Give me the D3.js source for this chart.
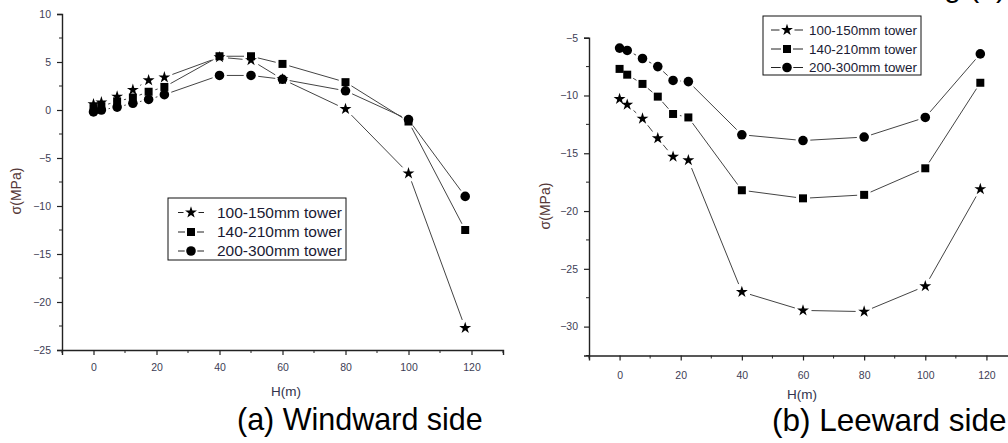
<!DOCTYPE html>
<html>
<head>
<meta charset="utf-8">
<script src="https://cdn.jsdelivr.net/npm/d3@7"></script>
<style>
  body { margin: 0; background: #fff; }
  svg { display: block; font-family: Arial, "Liberation Sans", sans-serif; }
</style>
</head>
<body>
<script>
// ---- data ----
var seriesNames = ["100-150mm tower", "140-210mm tower", "200-300mm tower"];

// (a) windward side
var heightsWind = [0, 2.5, 7.5, 12.5, 17.5, 22.5, 40, 50, 60, 80, 100, 118];
var wind100 = [0.6, 0.8, 1.4, 2.1, 3.1, 3.4, 5.5, 5.2, 3.2, 0.1, -6.6, -22.7];
var wind140 = [0.2, 0.4, 0.9, 1.3, 1.9, 2.4, 5.6, 5.6, 4.8, 2.9, -1.2, -12.5];
var wind200 = [-0.2, 0.0, 0.3, 0.7, 1.1, 1.6, 3.6, 3.6, 3.2, 2.0, -1.0, -9.0];

// (b) leeward side
var heightsLee = [0, 2.5, 7.5, 12.5, 17.5, 22.5, 40, 60, 80, 100, 118];
var lee100 = [-10.3, -10.8, -12.0, -13.7, -15.3, -15.6, -27.0, -28.6, -28.7, -26.5, -18.1];
var lee140 = [-7.7, -8.2, -9.0, -10.1, -11.6, -11.9, -18.2, -18.9, -18.6, -16.3, -8.9];
var lee200 = [-5.9, -6.1, -6.8, -7.5, -8.7, -8.8, -13.4, -13.9, -13.6, -11.9, -6.4];

var xMajor = [0, 20, 40, 60, 80, 100, 120];
var xMinor = [-10, 10, 30, 50, 70, 90, 110, 130];
var windMajor = [10, 5, 0, -5, -10, -15, -20, -25];
var leeMajor = [-5, -10, -15, -20, -25, -30];

var width = 1008;
var height = 443;

var svg = d3.select("body")
    .append("svg")
    .attr("width", width)
    .attr("height", height);

var symbols = [d3.symbolStar, d3.symbolSquare, d3.symbolCircle];
var symSize = [44, 64, 72];
var symR = [6, 4.5, 4.8];

// segment between two markers, with a small gap at each end (Origin style)
function gapLine(g, x1, y1, x2, y2, r1, r2) {
  var dx = x2 - x1, dy = y2 - y1;
  var len = Math.sqrt(dx * dx + dy * dy);
  var g1 = r1 + 2.5, g2 = r2 + 2.5;
  if (len <= g1 + g2) return;
  g.append("line")
    .attr("x1", x1 + dx * g1 / len)
    .attr("y1", y1 + dy * g1 / len)
    .attr("x2", x2 - dx * g2 / len)
    .attr("y2", y2 - dy * g2 / len)
    .attr("stroke", "#444")
    .attr("stroke-width", 1);
}

function panel(p) {
  var x = d3.scaleLinear().domain([-10, 130]).range(p.xRange);
  var y = d3.scaleLinear().domain(p.yDomain).range(p.yRange);
  var g = svg.append("g");

  // x axis
  var xAxis = g.append("g").attr("transform", "translate(0," + p.yRange[0] + ")");
  xAxis.call(d3.axisBottom(x).tickValues(xMajor).tickSize(5).tickPadding(p.xPad).tickFormat(d3.format("d")));
  xAxis.selectAll(".minor").data(xMinor).enter()
    .append("line").attr("class", "minor")
    .attr("x1", function(d){ return x(d); }).attr("x2", function(d){ return x(d); })
    .attr("y1", 0).attr("y2", 3)
    .attr("stroke", "#222");

  // y axis
  var yAxis = g.append("g").attr("transform", "translate(" + p.xRange[0] + ",0)");
  yAxis.call(d3.axisLeft(y).tickValues(p.yMajor).tickSize(5).tickPadding(6).tickFormat(d3.format("d")));
  yAxis.selectAll(".minor").data(p.yMajor.map(function(v){ return v - 2.5; }).filter(function(v){ return v >= p.yDomain[0]; })).enter()
    .append("line").attr("class", "minor")
    .attr("y1", function(d){ return y(d); }).attr("y2", function(d){ return y(d); })
    .attr("x1", 0).attr("x2", -3)
    .attr("stroke", "#222");

  g.selectAll(".domain").attr("stroke", "#222").attr("stroke-width", 1.4);
  g.selectAll(".tick line").attr("stroke", "#222").attr("stroke-width", 1.2);
  g.selectAll(".tick text")
    .attr("font-size", "10.5px")
    .attr("font-family", "Arial, 'Liberation Sans', sans-serif")
    .attr("fill", "#3d3d55");

  // axis titles
  g.append("text")
    .attr("x", p.xTitle[0]).attr("y", p.xTitle[1])
    .attr("text-anchor", "middle")
    .attr("font-size", "13.5px")
    .attr("fill", "#33334d")
    .text("H(m)");
  g.append("text")
    .attr("transform", "translate(" + p.yTitle[0] + "," + p.yTitle[1] + ") rotate(-90)")
    .attr("text-anchor", "middle")
    .attr("dy", "0.35em")
    .attr("font-size", "14px")
    .attr("fill", "#553838")
    .text("σ(MPa)");

  // series
  p.series.forEach(function(vals, i) {
    var pts = vals.map(function(v, k){ return [x(p.heights[k]), y(v)]; });
    for (var k = 0; k < pts.length - 1; k++) {
      gapLine(g, pts[k][0], pts[k][1], pts[k + 1][0], pts[k + 1][1], symR[i], symR[i]);
    }
    g.selectAll(".pt" + i).data(pts).enter()
      .append("path")
      .attr("transform", function(d){ return "translate(" + d[0] + "," + d[1] + ")"; })
      .attr("d", d3.symbol().type(symbols[i]).size(symSize[i]))
      .attr("fill", "#000");
  });

  // legend
  var L = p.legend;
  g.append("rect")
    .attr("x", L.x).attr("y", L.y).attr("width", L.w).attr("height", L.h)
    .attr("fill", "#fff").attr("stroke", "#111").attr("stroke-width", 1);
  seriesNames.forEach(function(name, i) {
    var cy = L.rows[i];
    var mx = (L.lx1 + L.lx2) / 2;
    g.append("line").attr("x1", L.lx1).attr("x2", mx - symR[i] - 1.5)
      .attr("y1", cy).attr("y2", cy).attr("stroke", "#222");
    g.append("line").attr("x1", mx + symR[i] + 1.5).attr("x2", L.lx2)
      .attr("y1", cy).attr("y2", cy).attr("stroke", "#222");
    g.append("path")
      .attr("transform", "translate(" + mx + "," + cy + ")")
      .attr("d", d3.symbol().type(symbols[i]).size(symSize[i]))
      .attr("fill", "#000");
    g.append("text")
      .attr("x", L.tx).attr("y", cy).attr("dy", "0.35em")
      .attr("font-size", L.fs)
      .attr("fill", "#1a1a33")
      .text(name);
  });

  // caption
  svg.append("text")
    .attr("x", p.caption[0]).attr("y", p.caption[1])
    .attr("font-size", p.caption[3])
    .attr("fill", "#000")
    .text(p.caption[2]);
}

panel({
  xRange: [62, 503],
  yDomain: [-25, 10],
  yRange: [350, 14],
  yMajor: windMajor,
  xPad: 9,
  heights: heightsWind,
  series: [wind100, wind140, wind200],
  xTitle: [286, 396],
  yTitle: [16, 191],
  legend: { x: 168, y: 198, w: 178, h: 62, lx1: 178, lx2: 204, tx: 217, rows: [212.5, 232, 251], fs: "15.5px" },
  caption: [237, 430, "(a) Windward side", "30.5px"]
});

panel({
  xRange: [589, 1017],
  yDomain: [-32.5, -5],
  yRange: [355.5, 37.7],
  yMajor: leeMajor,
  xPad: 11,
  heights: heightsLee,
  series: [lee100, lee140, lee200],
  xTitle: [802, 399],
  yTitle: [545, 206],
  legend: { x: 763, y: 16, w: 158, h: 59, lx1: 771, lx2: 803, tx: 809, rows: [30, 49, 67.5], fs: "13.4px" },
  caption: [772, 431, "(b) Leeward side", "31.5px"]
});

// bottom of the caption cut off at the top edge
svg.append("text")
  .attr("x", 1006).attr("y", -3)
  .attr("text-anchor", "end")
  .attr("font-size", "30px")
  .attr("fill", "#000")
  .text("Leeward loading (b)");
</script>
</body>
</html>
